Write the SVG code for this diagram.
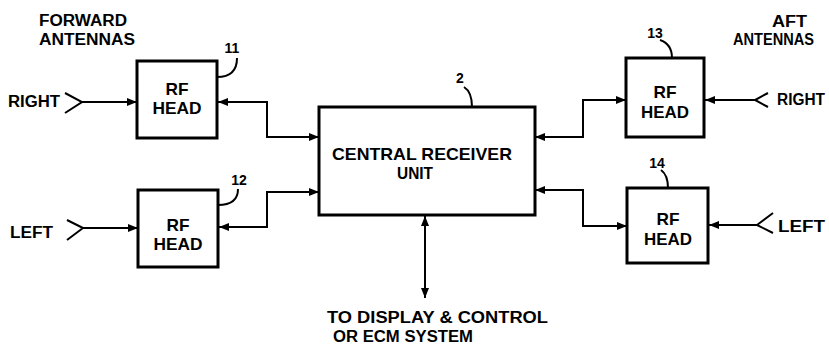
<svg xmlns="http://www.w3.org/2000/svg" width="829" height="344" viewBox="0 0 829 344">
<style>
  text { font-family: "Liberation Sans", Arial, sans-serif; font-weight: bold; fill: #000; }
  .lbl { font-size: 16px; }
  .rf { font-size: 17px; }
  .num { font-size: 14px; text-anchor: middle; }
  .box { fill: #fff; stroke: #000; stroke-width: 3; }
  .conn { fill: none; stroke: #000; stroke-width: 2; }
  .lead { fill: none; stroke: #000; stroke-width: 2; }
</style>
<defs>
  <marker id="ah" viewBox="0 0 10 8" refX="10" refY="4" markerWidth="10" markerHeight="8" markerUnits="userSpaceOnUse" orient="auto-start-reverse">
    <path d="M0,0 L10,4 L0,8 Z" fill="#000"/>
  </marker>
</defs>
<rect width="829" height="344" fill="#fff"/>

<text class="lbl" x="39" y="26" textLength="88" lengthAdjust="spacingAndGlyphs">FORWARD</text>
<text class="lbl" x="39" y="45" textLength="96" lengthAdjust="spacingAndGlyphs">ANTENNAS</text>
<text class="lbl" x="772" y="27" textLength="35" lengthAdjust="spacingAndGlyphs">AFT</text>
<text class="lbl" x="733" y="45" textLength="81" lengthAdjust="spacingAndGlyphs">ANTENNAS</text>
<text class="lbl" x="8" y="107" textLength="52" lengthAdjust="spacingAndGlyphs">RIGHT</text>
<text class="lbl" x="10" y="238" textLength="43" lengthAdjust="spacingAndGlyphs">LEFT</text>
<text class="lbl" x="777" y="105" textLength="48" lengthAdjust="spacingAndGlyphs">RIGHT</text>
<text class="lbl" x="778" y="232" textLength="47" lengthAdjust="spacingAndGlyphs">LEFT</text>
<text class="lbl" x="327" y="323" textLength="221" lengthAdjust="spacingAndGlyphs">TO DISPLAY &amp; CONTROL</text>
<text class="lbl" x="333" y="342" textLength="140" lengthAdjust="spacingAndGlyphs">OR ECM SYSTEM</text>

<g id="connectors">
  <polyline class="conn" points="65,93 82,102 65,113"/>
  <line class="conn" x1="82" y1="102" x2="137" y2="102" marker-end="url(#ah)"/>
  <polyline class="conn" points="67,220 83,228 67,240"/>
  <line class="conn" x1="83" y1="228" x2="138" y2="228" marker-end="url(#ah)"/>
  <path class="conn" d="M218,102 H267 V137 H319" marker-start="url(#ah)" marker-end="url(#ah)"/>
  <path class="conn" d="M219,227 H267 V192 H319" marker-start="url(#ah)" marker-end="url(#ah)"/>
  <path class="conn" d="M535,137 H583 V100 H626" marker-start="url(#ah)" marker-end="url(#ah)"/>
  <path class="conn" d="M535,190 H583 V226 H627" marker-start="url(#ah)" marker-end="url(#ah)"/>
  <polyline class="conn" points="768,93 755,100 768,107"/>
  <line class="conn" x1="755" y1="100" x2="705" y2="100" marker-end="url(#ah)"/>
  <polyline class="conn" points="773,213 757,225 773,233"/>
  <line class="conn" x1="757" y1="225" x2="709" y2="225" marker-end="url(#ah)"/>
  <line class="conn" x1="425" y1="216" x2="425" y2="298" marker-start="url(#ah)" marker-end="url(#ah)"/>
</g>

<g id="rf11">
  <rect class="box" x="137" y="61" width="80" height="77"/>
  <text class="rf" x="177" y="95" text-anchor="middle" textLength="23" lengthAdjust="spacingAndGlyphs">RF</text>
  <text class="rf" x="177" y="114" text-anchor="middle" textLength="49" lengthAdjust="spacingAndGlyphs">HEAD</text>
  <path class="lead" d="M217,77 Q237,77 237,58"/>
  <text class="num" x="232" y="53">11</text>
</g>

<g id="rf12">
  <rect class="box" x="138" y="190" width="80" height="77"/>
  <text class="rf" x="178" y="231" text-anchor="middle" textLength="23" lengthAdjust="spacingAndGlyphs">RF</text>
  <text class="rf" x="178" y="250" text-anchor="middle" textLength="49" lengthAdjust="spacingAndGlyphs">HEAD</text>
  <path class="lead" d="M218,205 Q238,205 238,189"/>
  <text class="num" x="239" y="185">12</text>
</g>

<g id="central">
  <rect class="box" x="319" y="107" width="216" height="108"/>
  <text x="332" y="160" font-size="17" textLength="180" lengthAdjust="spacingAndGlyphs">CENTRAL RECEIVER</text>
  <text x="397" y="179" font-size="17" textLength="36" lengthAdjust="spacingAndGlyphs">UNIT</text>
  <path class="lead" d="M464,87 Q472,92 472,107"/>
  <text class="num" x="460" y="83">2</text>
</g>

<g id="rf13">
  <rect class="box" x="626" y="58" width="78" height="79"/>
  <text class="rf" x="665" y="98" text-anchor="middle" textLength="23" lengthAdjust="spacingAndGlyphs">RF</text>
  <text class="rf" x="665" y="118" text-anchor="middle" textLength="48" lengthAdjust="spacingAndGlyphs">HEAD</text>
  <path class="lead" d="M660,40 Q672,44 672,58"/>
  <text class="num" x="655" y="38">13</text>
</g>

<g id="rf14">
  <rect class="box" x="627" y="188" width="81" height="75"/>
  <text class="rf" x="668" y="225" text-anchor="middle" textLength="23" lengthAdjust="spacingAndGlyphs">RF</text>
  <text class="rf" x="668" y="245" text-anchor="middle" textLength="48" lengthAdjust="spacingAndGlyphs">HEAD</text>
  <path class="lead" d="M661,170 Q668,175 668,188"/>
  <text class="num" x="657" y="168">14</text>
</g>
</svg>
